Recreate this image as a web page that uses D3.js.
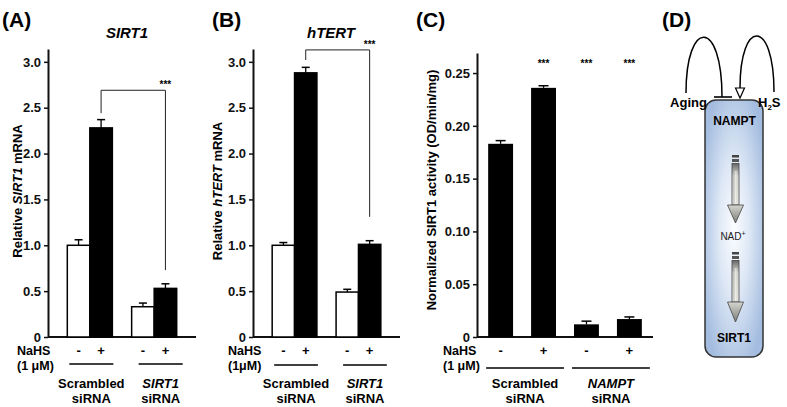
<!DOCTYPE html>
<html><head><meta charset="utf-8">
<script src="https://cdn.jsdelivr.net/npm/d3@7"></script>
<style>
body{margin:0;background:#fff}
svg{display:block}
text{font-family:"Liberation Sans",Arial,Helvetica,sans-serif}
</style>
</head><body>
<svg id="c" width="787" height="407"></svg>
<script>
// ---------------- data ----------------
const treatments = ["-", "+"];
const groupsA = ["Scrambled", "SIRT1"];
const groupsB = ["Scrambled", "SIRT1"];
const groupsC = ["Scrambled", "NAMPT"];
const groupItalic = {"Scrambled": false, "SIRT1": true, "NAMPT": true};

const sirt1Values = [[1.00, 2.28], [0.33, 0.53]];
const sirt1Errors = [[0.06, 0.09], [0.04, 0.05]];
const htertValues = [[1.00, 2.88], [0.49, 1.01]];
const htertErrors = [[0.03, 0.06], [0.03, 0.04]];

const activityBars = ["Scr-", "Scr+", "NAM-", "NAM+"];
const activityGroup = ["Scrambled", "Scrambled", "NAMPT", "NAMPT"];
const activityTreat = ["-", "+", "-", "+"];
const activityValues = [0.183, 0.236, 0.012, 0.017];
const activityErrors = [0.003, 0.002, 0.003, 0.002];
const activitySig = ["", "***", "***", "***"];

const ticksAB = [0, 0.5, 1.0, 1.5, 2.0, 2.5, 3.0];
const ticksC = [0, 0.05, 0.10, 0.15, 0.20, 0.25];
const bracketA = {top: 2.69, left: 2.44, right: 0.73};
const bracketB = {top: 3.13, left: 3.02, right: 1.31};

// ---------------- drawing ----------------
const svg = d3.select("#c");
const FONT = '"Liberation Sans",Arial,Helvetica,sans-serif';

function panelLetter(t, x) {
  svg.append("text").attr("x", x).attr("y", 27).attr("font-size", 21)
    .attr("font-weight", "bold").text(t);
}

function yAxis(g, y, ticks, fmt) {
  const ax = g.append("g").call(d3.axisLeft(y).tickValues(ticks).tickSize(4)
    .tickPadding(3).tickSizeOuter(0).tickFormat(fmt));
  ax.attr("font-family", FONT).attr("font-size", 13).attr("font-weight", "bold");
  ax.select(".domain").attr("stroke", "#111").attr("stroke-width", 2);
  ax.selectAll(".tick line").attr("stroke", "#111").attr("stroke-width", 1.5);
  ax.selectAll(".tick text").attr("fill", "#111");
  return ax;
}

function yLabel(x, y, parts) {
  const t = svg.append("text").attr("transform", `translate(${x},${y}) rotate(-90)`)
    .attr("text-anchor", "middle").attr("font-size", 13).attr("font-weight", "bold");
  parts.forEach(p => t.append("tspan").attr("font-style", p[1] ? "italic" : "normal").text(p[0]));
}

function groupLabel(cx, name) {
  svg.append("text").attr("x", cx).attr("y", 388).attr("text-anchor", "middle")
    .attr("font-size", 13).attr("font-weight", "bold")
    .attr("font-style", groupItalic[name] ? "italic" : "normal").text(name);
  svg.append("text").attr("x", cx).attr("y", 403).attr("text-anchor", "middle")
    .attr("font-size", 13).attr("font-weight", "bold").text("siRNA");
}

function nahs(x, um) {
  svg.append("text").attr("x", x).attr("y", 355).attr("font-size", 12.5)
    .attr("font-weight", "bold").text("NaHS");
  svg.append("text").attr("x", x).attr("y", 370).attr("font-size", 12.5)
    .attr("font-weight", "bold").text(um);
}

function errBar(cx, y0, y1, hw) {
  svg.append("line").attr("x1", cx).attr("x2", cx).attr("y1", y0).attr("y2", y1)
    .attr("stroke", "#000").attr("stroke-width", 1.3);
  svg.append("line").attr("x1", cx - hw).attr("x2", cx + hw).attr("y1", y1).attr("y2", y1)
    .attr("stroke", "#000").attr("stroke-width", 1.5);
}

function panelAB(o) {
  const y = d3.scaleLinear().domain([0, 3.14]).range([337, 49]);
  const xg = d3.scaleBand().domain(o.groups).range([o.x0, o.x1]).paddingInner(0.3).paddingOuter(0.3);
  const xt = d3.scaleBand().domain(treatments).range([0, xg.bandwidth()]);
  const g = svg.append("g").attr("transform", `translate(${o.x0},0)`);
  yAxis(g, y, ticksAB, d => d === 0 ? "0" : d.toFixed(1));
  svg.append("line").attr("x1", o.x0).attr("x2", o.x1).attr("y1", y(0)).attr("y2", y(0))
    .attr("stroke", "#111").attr("stroke-width", 2);
  o.groups.forEach((gr, gi) => {
    treatments.forEach((tr, ti) => {
      const v = o.values[gi][ti], e = o.errors[gi][ti];
      const bx = xg(gr) + xt(tr);
      const cx = bx + xt.bandwidth() / 2;
      errBar(cx, y(v), y(v + e), 4);
      svg.append("rect").attr("x", bx).attr("y", y(v)).attr("width", xt.bandwidth())
        .attr("height", y(0) - y(v)).attr("fill", tr === "-" ? "#fff" : "#000")
        .attr("stroke", "#000").attr("stroke-width", 1.5);
      svg.append("text").attr("x", cx).attr("y", 355).attr("text-anchor", "middle")
        .attr("font-size", 13).attr("font-weight", "bold").text(tr);
    });
    const lx0 = xg(gr) + 2 + gi * 5, lx1 = xg(gr) + xg.bandwidth() + 1 + gi * 5;
    svg.append("line").attr("x1", lx0).attr("x2", lx1).attr("y1", o.lineY).attr("y2", o.lineY)
      .attr("stroke", "#000").attr("stroke-width", 1.5);
    groupLabel((lx0 + lx1) / 2, gr);
  });
  // significance bracket
  const bxL = xg(o.groups[0]) + xt("+") + xt.bandwidth() / 2;
  const bxR = xg(o.groups[1]) + xt("+") + xt.bandwidth() / 2;
  svg.append("path")
    .attr("d", `M${bxL},${y(o.bracket.left)}V${y(o.bracket.top)}H${bxR}V${y(o.bracket.right)}`)
    .attr("fill", "none").attr("stroke", "#222").attr("stroke-width", 1);
  svg.append("text").attr("x", bxR).attr("y", y(o.bracket.top) - 2).attr("text-anchor", "middle")
    .attr("font-size", 10).attr("font-weight", "bold").text("***");
  svg.append("text").attr("x", o.titleX).attr("y", 38).attr("text-anchor", "middle")
    .attr("font-size", 15).attr("font-weight", "bold").attr("font-style", "italic").text(o.title);
  yLabel(o.labelX, 191, o.ylab);
  nahs(o.nahsX, o.um);
  panelLetter(o.letter, o.letterX);
}

panelAB({groups: groupsA, values: sirt1Values, errors: sirt1Errors, bracket: bracketA,
  x0: 48, x1: 196, lineY: 364, title: "SIRT1", titleX: 127, labelX: 21.5,
  ylab: [["Relative ", false], ["SIRT1", true], [" mRNA", false]],
  nahsX: 17, um: "(1 \u03bcM)", letter: "(A)", letterX: 2});

panelAB({groups: groupsB, values: htertValues, errors: htertErrors, bracket: bracketB,
  x0: 253, x1: 400, lineY: 365, title: "hTERT", titleX: 331, labelX: 221.5,
  ylab: [["Relative ", false], ["hTERT", true], [" mRNA", false]],
  nahsX: 228, um: "(1\u03bcM)", letter: "(B)", letterX: 212});

// ---------------- panel C ----------------
(function () {
  const x0 = 477, x1 = 653;
  const y = d3.scaleLinear().domain([0, 0.269]).range([337, 53]);
  const x = d3.scaleBand().domain(activityBars).range([x0, x1]).paddingInner(0.42).paddingOuter(0.26);
  const g = svg.append("g").attr("transform", `translate(${x0},0)`);
  yAxis(g, y, ticksC, d => d === 0 ? "0" : d.toFixed(2));
  svg.append("line").attr("x1", x0).attr("x2", x1).attr("y1", y(0)).attr("y2", y(0))
    .attr("stroke", "#111").attr("stroke-width", 2);
  activityBars.forEach((b, i) => {
    const v = activityValues[i], e = activityErrors[i];
    const cx = x(b) + x.bandwidth() / 2;
    errBar(cx, y(v), y(v + e), 5);
    svg.append("rect").attr("x", x(b)).attr("y", y(v)).attr("width", x.bandwidth())
      .attr("height", y(0) - y(v)).attr("fill", "#000");
    svg.append("text").attr("x", cx).attr("y", 355).attr("text-anchor", "middle")
      .attr("font-size", 13).attr("font-weight", "bold").text(activityTreat[i]);
    if (activitySig[i]) svg.append("text").attr("x", cx).attr("y", 67).attr("text-anchor", "middle")
      .attr("font-size", 10).attr("font-weight", "bold").text(activitySig[i]);
  });
  groupsC.forEach(gr => {
    const idx = activityGroup.map((d, i) => d === gr ? i : -1).filter(i => i >= 0);
    const lx0 = x(activityBars[idx[0]]) - 2;
    const lx1 = x(activityBars[idx[idx.length - 1]]) + x.bandwidth() + 8;
    svg.append("line").attr("x1", lx0).attr("x2", lx1).attr("y1", 368).attr("y2", 368)
      .attr("stroke", "#000").attr("stroke-width", 1.5);
    groupLabel((lx0 + lx1) / 2, gr);
  });
  yLabel(435.5, 190, [["Normalized SIRT1 activity (OD/min/mg)", false]]);
  nahs(443, "(1 \u03bcM)");
  panelLetter("(C)", 416);
})();

// ---------------- panel D (diagram) ----------------
(function () {
  const defs = svg.append("defs");
  const rg = defs.append("radialGradient").attr("id", "boxg").attr("cx", "50%").attr("cy", "50%").attr("r", "60%");
  rg.append("stop").attr("offset", "0%").attr("stop-color", "#fbfdff");
  rg.append("stop").attr("offset", "45%").attr("stop-color", "#dde7f5");
  rg.append("stop").attr("offset", "100%").attr("stop-color", "#a3bcdf");
  const sg = defs.append("linearGradient").attr("id", "shaftg").attr("x1", 0).attr("x2", 1).attr("y1", 0).attr("y2", 0);
  sg.append("stop").attr("offset", "0%").attr("stop-color", "#8a8a84");
  sg.append("stop").attr("offset", "45%").attr("stop-color", "#f2f2ee");
  sg.append("stop").attr("offset", "100%").attr("stop-color", "#c8c8c2");
  const sv = defs.append("linearGradient").attr("id", "shaftv").attr("x1", 0).attr("x2", 0).attr("y1", 0).attr("y2", 1);
  sv.append("stop").attr("offset", "0%").attr("stop-color", "#666");
  sv.append("stop").attr("offset", "30%").attr("stop-color", "#dcdcd6");
  sv.append("stop").attr("offset", "100%").attr("stop-color", "#efefea");
  const hg = defs.append("linearGradient").attr("id", "headg").attr("x1", 0).attr("x2", 0).attr("y1", 0).attr("y2", 1);
  hg.append("stop").attr("offset", "0%").attr("stop-color", "#d6d6d0");
  hg.append("stop").attr("offset", "100%").attr("stop-color", "#7d7d78");

  svg.append("rect").attr("x", 705).attr("y", 100).attr("width", 58).attr("height", 257)
    .attr("rx", 11).attr("fill", "url(#boxg)").attr("stroke", "#333").attr("stroke-width", 1.5);

  function arrow(cx, top, headY, tip) {
    svg.append("rect").attr("x", cx - 3.5).attr("y", top).attr("width", 7).attr("height", 2.5).attr("fill", "#444");
    svg.append("rect").attr("x", cx - 3.5).attr("y", top + 4).attr("width", 7).attr("height", 3).attr("fill", "#555");
    svg.append("rect").attr("x", cx - 3.5).attr("y", top + 8.5).attr("width", 7).attr("height", headY - top - 8.5)
      .attr("fill", "url(#shaftv)").attr("stroke", "#444").attr("stroke-width", 0.8);
    svg.append("rect").attr("x", cx - 2).attr("y", top + 16).attr("width", 4).attr("height", headY - top - 17)
      .attr("fill", "url(#shaftg)").attr("opacity", 0.6);
    svg.append("path").attr("d", `M${cx - 8},${headY}H${cx + 8}L${cx},${tip}Z`)
      .attr("fill", "url(#headg)").attr("stroke", "#444").attr("stroke-width", 0.8);
  }
  arrow(735.5, 155, 205, 223);
  arrow(735.5, 252, 302, 322);

  // feedback arcs
  svg.append("path").attr("d", "M686,93 C686,18 722,18 722,97").attr("fill", "none")
    .attr("stroke", "#000").attr("stroke-width", 1.5);
  svg.append("line").attr("x1", 714).attr("x2", 732).attr("y1", 97).attr("y2", 97)
    .attr("stroke", "#000").attr("stroke-width", 1.6);
  svg.append("path").attr("d", "M774,92 C774,18 740,18 740,88").attr("fill", "none")
    .attr("stroke", "#000").attr("stroke-width", 1.5);
  svg.append("path").attr("d", "M735.5,88H744.5L740,98Z").attr("fill", "#fff")
    .attr("stroke", "#000").attr("stroke-width", 1.2);

  svg.append("text").attr("x", 688.5).attr("y", 107).attr("text-anchor", "middle")
    .attr("font-size", 13).attr("font-weight", "bold").text("Aging");
  const h = svg.append("text").attr("x", 758).attr("y", 107).attr("font-size", 13).attr("font-weight", "bold");
  h.append("tspan").text("H");
  h.append("tspan").attr("font-size", 8).attr("dy", 3).text("2");
  h.append("tspan").attr("dy", -3).text("S");

  svg.append("text").attr("x", 734.5).attr("y", 125).attr("text-anchor", "middle")
    .attr("font-size", 12).attr("font-weight", "bold").text("NAMPT");
  const n = svg.append("text").attr("x", 733).attr("y", 240).attr("text-anchor", "middle")
    .attr("font-size", 10).attr("fill", "#222");
  n.append("tspan").text("NAD");
  n.append("tspan").attr("font-size", 7).attr("dy", -4).text("+");
  svg.append("text").attr("x", 734).attr("y", 342).attr("text-anchor", "middle")
    .attr("font-size", 12).attr("font-weight", "bold").text("SIRT1");
  panelLetter("(D)", 662);
})();
</script>
</body></html>
